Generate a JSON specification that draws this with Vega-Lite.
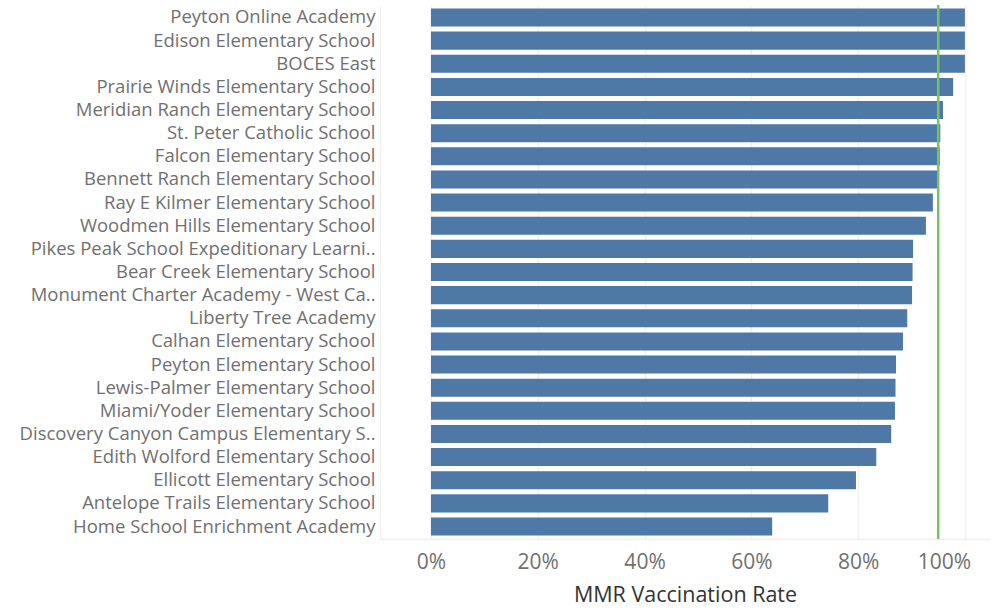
{
  "$schema": "https://vega.github.io/schema/vega-lite/v6.json",
  "autosize": {"type": "none"},
  "padding": {"left": 380, "top": 5, "right": 2, "bottom": 67},
  "width": 610,
  "height": 534,
  "background": "white",
  "config": {"view": {"stroke": null}},
  "data": {"values": [
    {"school": "Peyton Online Academy", "rate": 1.0},
    {"school": "Edison Elementary School", "rate": 1.0},
    {"school": "BOCES East", "rate": 1.0},
    {"school": "Prairie Winds Elementary School", "rate": 0.978},
    {"school": "Meridian Ranch Elementary School", "rate": 0.959},
    {"school": "St. Peter Catholic School", "rate": 0.954},
    {"school": "Falcon Elementary School", "rate": 0.953},
    {"school": "Bennett Ranch Elementary School", "rate": 0.948},
    {"school": "Ray E Kilmer Elementary School", "rate": 0.94},
    {"school": "Woodmen Hills Elementary School", "rate": 0.927},
    {"school": "Pikes Peak School Expeditionary Learni..", "rate": 0.903},
    {"school": "Bear Creek Elementary School", "rate": 0.902},
    {"school": "Monument Charter Academy - West Ca..", "rate": 0.901},
    {"school": "Liberty Tree Academy", "rate": 0.892},
    {"school": "Calhan Elementary School", "rate": 0.884},
    {"school": "Peyton Elementary School", "rate": 0.871},
    {"school": "Lewis-Palmer Elementary School", "rate": 0.870},
    {"school": "Miami/Yoder Elementary School", "rate": 0.869},
    {"school": "Discovery Canyon Campus Elementary S..", "rate": 0.862},
    {"school": "Edith Wolford Elementary School", "rate": 0.834},
    {"school": "Ellicott Elementary School", "rate": 0.796},
    {"school": "Antelope Trails Elementary School", "rate": 0.744},
    {"school": "Home School Enrichment Academy", "rate": 0.639}
  ]},
  "layer": [
    {
      "mark": {"type": "bar", "color": "#4e79a7"},
      "encoding": {
        "y": {
          "field": "school", "type": "nominal", "sort": null,
          "scale": {"paddingInner": 0.22, "paddingOuter": 0.15},
          "axis": {
            "title": null, "ticks": false, "labelPadding": 5,
            "labelFont": "Open Sans", "labelFontSize": 18.5, "labelColor": "#707070",
            "labelLimit": 400, "domainColor": "#f0f0f0", "domainWidth": 1
          }
        },
        "x": {
          "field": "rate", "type": "quantitative",
          "scale": {"domain": [-0.0955, 1.047], "nice": false, "zero": false},
          "axis": {
            "title": "MMR Vaccination Rate", "format": ".0%",
            "values": [0, 0.2, 0.4, 0.6, 0.8, 1.0],
            "ticks": false, "labelPadding": 12,
            "labelOffset": {"condition": {"test": "datum.value === 1", "value": -21}, "value": 0},
            "labelFont": "Open Sans", "labelFontSize": 21, "labelColor": "#707070",
            "titleFont": "Open Sans", "titleFontSize": 21.5, "titleFontWeight": "normal",
            "titleColor": "#333333", "titlePadding": 12,
            "grid": true, "gridColor": "#f0f0f0", "gridWidth": 1.5,
            "domainColor": "#f0f0f0", "domainWidth": 1.5
          }
        }
      }
    },
    {
      "data": {"values": [{"ref": 0.95}]},
      "mark": {"type": "rule", "color": "#76c266", "strokeWidth": 2.5},
      "encoding": {"x": {"field": "ref", "type": "quantitative"}}
    }
  ]
}
